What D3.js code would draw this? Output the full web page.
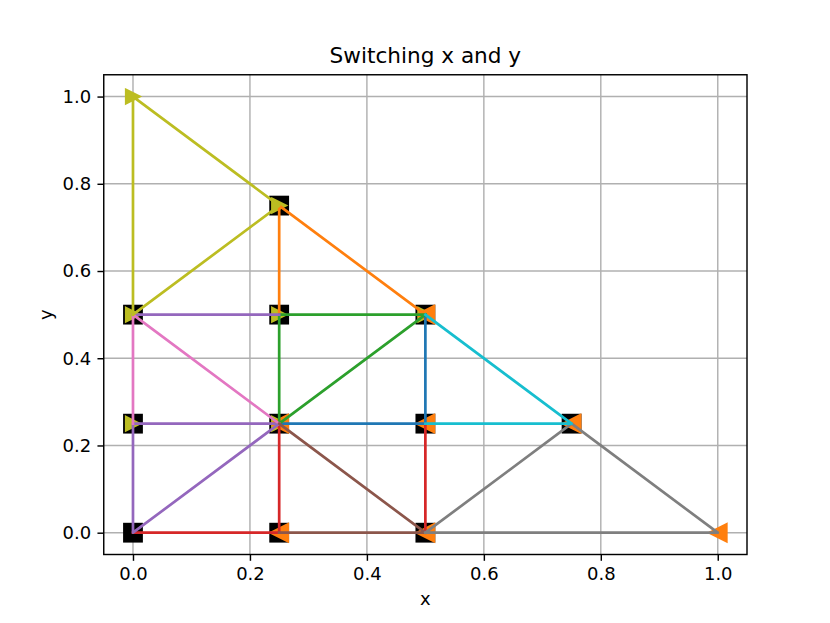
<!DOCTYPE html>
<html>
<head>
<meta charset="utf-8">
<script src="https://cdn.jsdelivr.net/npm/d3@7"></script>
<style>
  body { margin: 0; background: #fff; }
  text { font-family: "DejaVu Sans", sans-serif; fill: #000; }
</style>
</head>
<body>
<div class="flex-container"></div>
<script>
var width = 830;
var height = 623;

// axes box, same fractions as a default matplotlib figure
var margin = { "top": 74.76,
               "bottom": 68.5,
               "left": 103.75,
               "right": 83 };

var pt = 1.8; // px per point

var tickValues = [0.0, 0.2, 0.4, 0.6, 0.8, 1.0];

// nodes drawn as black squares
var squareNodes = [[0, 0], [0.25, 0], [0.5, 0], [0, 0.25], [0.25, 0.25], [0.5, 0.25],
                   [0.75, 0.25], [0, 0.5], [0.25, 0.5], [0.5, 0.5], [0.25, 0.75]];

// original points ("<" markers) and the switched ones (">" markers)
var leftNodes = [[1, 0], [0.75, 0.25], [0.5, 0.5], [0.5, 0.25], [0.5, 0], [0.25, 0], [0.25, 0.25]];
var rightNodes = [[0, 1], [0.25, 0.75], [0.5, 0.5], [0.25, 0.5], [0, 0.5], [0, 0.25], [0.25, 0.25]];

// edges, one polyline per colour, in drawing order
var bluePath   = [[0.25, 0.25], [0.5, 0.25], [0.5, 0.5]];
var orangePath = [[0.25, 0.5], [0.25, 0.75], [0.5, 0.5]];
var greenPath  = [[0.5, 0.5], [0.25, 0.5], [0.25, 0.25], [0.5, 0.5]];
var redPath    = [[0, 0], [0.25, 0], [0.25, 0.25]];
var redPath2   = [[0.5, 0], [0.5, 0.25]];
var purplePath = [[0.25, 0.25], [0, 0.25], [0, 0], [0.25, 0.25]];
var purplePath2 = [[0, 0.5], [0.25, 0.5]];
var pinkPath   = [[0, 0.25], [0, 0.5], [0.25, 0.25]];
var brownPath  = [[0.25, 0.25], [0.5, 0], [0.25, 0]];
var grayPath   = [[0.5, 0], [0.75, 0.25], [1, 0], [0.5, 0]];
var olivePath  = [[0, 0.5], [0, 1], [0.25, 0.75], [0, 0.5]];
var cyanPath   = [[0.5, 0.5], [0.75, 0.25], [0.5, 0.25]];

var series = [
  { "pts": bluePath,    "color": "#1f77b4" },
  { "pts": orangePath,  "color": "#ff7f0e" },
  { "pts": greenPath,   "color": "#2ca02c" },
  { "pts": redPath,     "color": "#d62728" },
  { "pts": redPath2,    "color": "#d62728" },
  { "pts": purplePath,  "color": "#9467bd" },
  { "pts": purplePath2, "color": "#9467bd" },
  { "pts": pinkPath,    "color": "#e377c2" },
  { "pts": brownPath,   "color": "#8c564b" },
  { "pts": grayPath,    "color": "#7f7f7f" },
  { "pts": olivePath,   "color": "#bcbd22" },
  { "pts": cyanPath,    "color": "#17becf" }
];

var plotW = width - margin.left - margin.right;
var plotH = height - margin.top - margin.bottom;

var svg = d3.select(".flex-container")
              .append("svg")
              .attr("width", width)
              .attr("height", height);

var g = svg.append("g")
             .attr("transform", "translate(" + margin.left + "," + margin.top + ")");

var scaleX = d3.scaleLinear().domain([-0.05, 1.05]).range([0, plotW]);
var scaleY = d3.scaleLinear().domain([-0.05, 1.05]).range([plotH, 0]);

// grid
g.append("g")
   .selectAll("line.gx")
   .data(tickValues)
   .enter().append("line")
   .attr("x1", function(d) { return scaleX(d) })
   .attr("x2", function(d) { return scaleX(d) })
   .attr("y1", 0)
   .attr("y2", plotH)
   .attr("stroke", "#b0b0b0")
   .attr("stroke-width", 0.8 * pt);

g.append("g")
   .selectAll("line.gy")
   .data(tickValues)
   .enter().append("line")
   .attr("y1", function(d) { return scaleY(d) })
   .attr("y2", function(d) { return scaleY(d) })
   .attr("x1", 0)
   .attr("x2", plotW)
   .attr("stroke", "#b0b0b0")
   .attr("stroke-width", 0.8 * pt);

// markers
var sq = 18;
g.append("g")
   .selectAll("rect")
   .data(squareNodes)
   .enter().append("rect")
   .attr("x", function(d) { return scaleX(d[0]) - sq / 2 })
   .attr("y", function(d) { return scaleY(d[1]) - sq / 2 })
   .attr("width", sq)
   .attr("height", sq)
   .attr("fill", "#000")
   .attr("stroke", "#000")
   .attr("stroke-width", pt);

function triRight(h) { return "M" + (-h) + "," + (-h) + "L" + h + ",0L" + (-h) + "," + h + "Z"; }
function triLeft(h) { return "M" + h + "," + (-h) + "L" + (-h) + ",0L" + h + "," + h + "Z"; }

g.append("g")
   .selectAll("path")
   .data(rightNodes)
   .enter().append("path")
   .attr("transform", function(d) { return "translate(" + scaleX(d[0]) + "," + scaleY(d[1]) + ")" })
   .attr("d", triRight(7.2))
   .attr("fill", "#bcbd22")
   .attr("stroke", "#bcbd22")
   .attr("stroke-width", pt);

g.append("g")
   .selectAll("path")
   .data(leftNodes)
   .enter().append("path")
   .attr("transform", function(d) { return "translate(" + scaleX(d[0]) + "," + scaleY(d[1]) + ")" })
   .attr("d", triLeft(9))
   .attr("fill", "#ff7f0e")
   .attr("stroke", "#ff7f0e")
   .attr("stroke-width", pt);

// edges
var line = d3.line()
               .x(function(d) { return scaleX(d[0]) })
               .y(function(d) { return scaleY(d[1]) });

g.append("g")
   .selectAll("path")
   .data(series)
   .enter().append("path")
   .attr("d", function(d) { return line(d.pts) })
   .attr("fill", "none")
   .attr("stroke", function(d) { return d.color })
   .attr("stroke-width", 1.5 * pt)
   .attr("stroke-linecap", "square")
   .attr("stroke-linejoin", "round");

// axes
var xAxis = d3.axisBottom(scaleX)
               .tickValues(tickValues)
               .tickFormat(d3.format(".1f"))
               .tickSizeInner(3.5 * pt)
               .tickSizeOuter(0)
               .tickPadding(3.5 * pt);

var yAxis = d3.axisLeft(scaleY)
               .tickValues(tickValues)
               .tickFormat(d3.format(".1f"))
               .tickSizeInner(3.5 * pt)
               .tickSizeOuter(0)
               .tickPadding(3.5 * pt);

var gx = g.append("g")
            .attr("transform", "translate(0," + plotH + ")")
            .call(xAxis);

var gy = g.append("g")
            .call(yAxis);

[gx, gy].forEach(function(a) {
  a.select(".domain").remove();
  a.selectAll("line").attr("stroke", "#000").attr("stroke-width", 0.8 * pt);
  a.selectAll("text")
     .attr("font-family", "DejaVu Sans")
     .attr("font-size", 18)
     .attr("fill", "#000");
});

// frame
g.append("rect")
   .attr("width", plotW)
   .attr("height", plotH)
   .attr("fill", "none")
   .attr("stroke", "#000")
   .attr("stroke-width", 0.8 * pt);

// labels
svg.append("text")
    .attr("x", margin.left + plotW / 2)
    .attr("y", 63)
    .attr("text-anchor", "middle")
    .attr("font-size", 21.6)
    .text("Switching x and y");

svg.append("text")
    .attr("x", margin.left + plotW / 2)
    .attr("y", 605)
    .attr("text-anchor", "middle")
    .attr("font-size", 18)
    .text("x");

svg.append("text")
    .attr("transform", "translate(52," + (margin.top + plotH / 2) + ") rotate(-90)")
    .attr("text-anchor", "middle")
    .attr("font-size", 18)
    .text("y");
</script>
</body>
</html>
